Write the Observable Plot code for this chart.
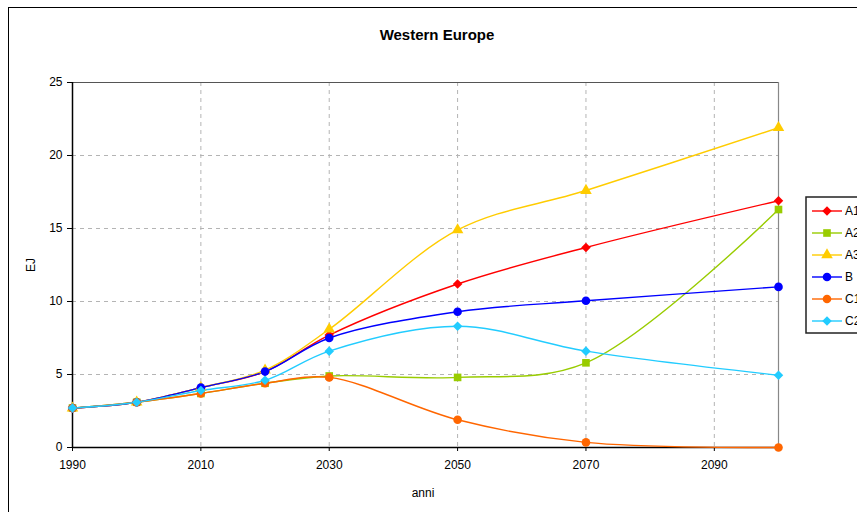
<!DOCTYPE html>
<html>
<head>
<meta charset="utf-8">
<script src="https://cdn.jsdelivr.net/npm/d3@7"></script>
<script src="https://cdn.jsdelivr.net/npm/@observablehq/plot@0.6"></script>
<style>
  html, body { margin: 0; padding: 0; background: #fff; overflow: hidden; }
  #wrap { position: relative; width: 857px; height: 512px; overflow: hidden; font-family: "Liberation Sans", Arial, sans-serif; }
  #frame { position: absolute; left: 8px; top: 7px; width: 900px; height: 600px; border-left: 1.5px solid #000; border-top: 1.5px solid #000; }
  #chart { position: absolute; left: 0; top: 0; }
  #legend { position: absolute; left: 0; top: 0; }
</style>
</head>
<body>
<div id="wrap"><div id="frame"></div><div id="chart"></div><svg id="legend" width="857" height="512"></svg></div>
<script>
const title = "Western Europe";
const xLabel = "anni";
const yLabel = "EJ";
const years = [1990, 2000, 2010, 2020, 2030, 2050, 2070, 2100];
const seriesNames = ["A1", "A2", "A3", "B", "C1", "C2"];
const A1 = [2.7, 3.1, 4.1, 5.2, 7.7, 11.2, 13.7, 16.9];
const A2 = [2.7, 3.1, 3.7, 4.4, 4.9, 4.8, 5.8, 16.3];
const A3 = [2.7, 3.1, 4.1, 5.3, 8.1, 14.9, 17.6, 21.9];
const B  = [2.7, 3.1, 4.1, 5.2, 7.5, 9.3, 10.05, 11.0];
const C1 = [2.7, 3.1, 3.7, 4.4, 4.8, 1.9, 0.35, 0.0];
const C2 = [2.7, 3.1, 3.9, 4.6, 6.6, 8.3, 6.6, 4.95];
const colors = ["#ff0000", "#99cc00", "#ffcc00", "#0000ff", "#ff6600", "#22ccff"];
const symbols = ["diamond2", "square", "triangle", "circle", "circle", "diamond2"];
const xTicks = [1990, 2010, 2030, 2050, 2070, 2090];
const xGrid = [2010, 2030, 2050, 2070, 2090];
const yTicks = [0, 5, 10, 15, 20, 25];
const yGrid = [5, 10, 15, 20];

const valuesBySeries = [A1, A2, A3, B, C1, C2];
const data = [];
seriesNames.forEach((s, i) => years.forEach((yr, j) => data.push({series: s, year: yr, value: valuesBySeries[i][j]})));

const colorScale = {domain: seriesNames, range: colors};
const symbolScale = {domain: seriesNames, range: symbols};

const chart = Plot.plot({
  width: 857,
  height: 512,
  marginLeft: 72,
  marginRight: 79,
  marginTop: 82,
  marginBottom: 65,
  style: {fontFamily: "'Liberation Sans', Arial, sans-serif", fontSize: "12px", background: "transparent", color: "#000"},
  x: {domain: [1990, 2100]},
  y: {domain: [0, 25]},
  color: colorScale,
  symbol: symbolScale,
  marks: [
    Plot.gridX(xGrid, {stroke: "#b4b4b4", strokeOpacity: 1, strokeDasharray: "4,4", strokeWidth: 1}),
    Plot.gridY(yGrid, {stroke: "#b4b4b4", strokeOpacity: 1, strokeDasharray: "4,4", strokeWidth: 1}),
    Plot.ruleY([25], {stroke: "#555", strokeWidth: 1}),
    Plot.ruleX([2100], {stroke: "#888", strokeWidth: 1.2}),
    Plot.ruleY([0], {stroke: "#000", strokeWidth: 1.5}),
    Plot.ruleX([1990], {stroke: "#000", strokeWidth: 1.5}),
    Plot.axisX({ticks: xTicks, tickFormat: d => String(d), tickSize: 4, tickPadding: 9, label: null, fontSize: 12}),
    Plot.axisY({ticks: yTicks, tickSize: 5, tickPadding: 5, label: null, fontSize: 12}),
    Plot.line(data, {x: "year", y: "value", z: "series", stroke: "series", strokeWidth: 1.4, curve: "catmull-rom"}),
    Plot.dot(data, {x: "year", y: "value", fill: "series", symbol: "series", r: 4.3, stroke: null})
  ]
});
document.getElementById("chart").appendChild(chart);

// Title and axis labels
const svg = d3.select(chart);
svg.append("text").attr("x", 437).attr("y", 40).attr("text-anchor", "middle")
  .attr("font-weight", "bold").attr("font-size", 15).attr("fill", "#000").text(title);
svg.append("text").attr("x", 423).attr("y", 497).attr("text-anchor", "middle")
  .attr("font-size", 12).attr("fill", "#000").text(xLabel);
svg.append("text").attr("transform", "translate(35,265) rotate(-90)").attr("text-anchor", "middle")
  .attr("font-size", 12).attr("fill", "#000").text(yLabel);

// Legend
const lg = d3.select("#legend");
lg.append("rect").attr("x", 806).attr("y", 197).attr("width", 80).attr("height", 136)
  .attr("fill", "#fff").attr("stroke", "#222").attr("stroke-width", 1.5);
const symMap = {diamond2: d3.symbolDiamond2, square: d3.symbolSquare, triangle: d3.symbolTriangle, circle: d3.symbolCircle};
seriesNames.forEach((s, i) => {
  const cy = 211 + i * 22;
  lg.append("line").attr("x1", 812).attr("x2", 842).attr("y1", cy).attr("y2", cy)
    .attr("stroke", colors[i]).attr("stroke-width", 1.4);
  lg.append("path").attr("transform", `translate(827,${cy})`)
    .attr("d", d3.symbol(symMap[symbols[i]], Math.PI * 4.3 * 4.3)()).attr("fill", colors[i]);
  lg.append("text").attr("x", 845).attr("y", cy + 4).attr("font-size", 12)
    .attr("font-family", "'Liberation Sans', Arial, sans-serif").attr("fill", "#000").text(s);
});
</script>
</body>
</html>
